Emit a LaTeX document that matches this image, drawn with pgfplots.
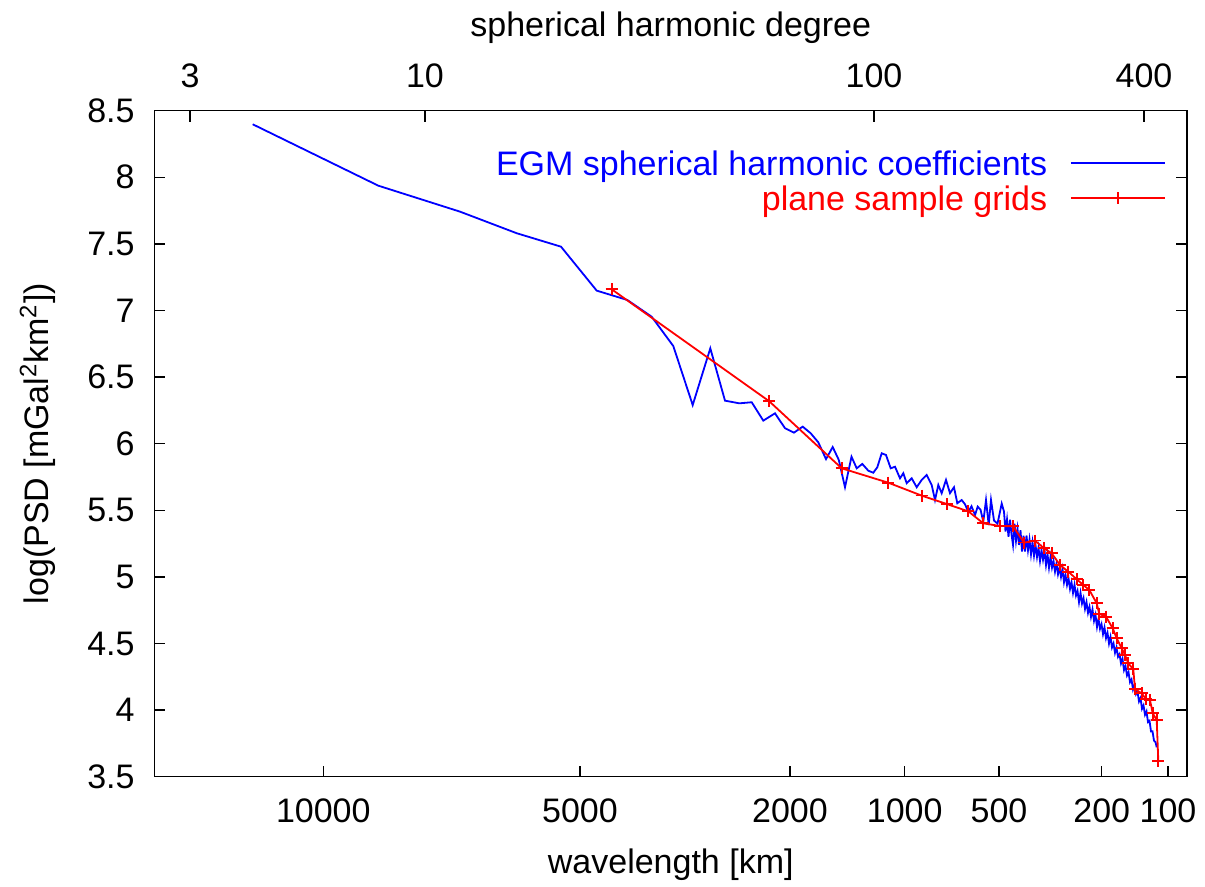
\documentclass[border=0pt]{standalone}
\usepackage{fontspec}
\setmainfont{Liberation Sans}
\usepackage{pgfplots}
\pgfplotsset{compat=1.18}
\begin{document}
\fontsize{17}{20}\selectfont
\begin{tikzpicture}
\pgfplotsset{
  common/.style={
    width=516.25pt, height=333pt, scale only axis,
    xmin=154.5, xmax=1187, ymin=3.5, ymax=8.5,
    at={(0,0)}, anchor=south west,
    /pgf/number format/assume math mode=true,
    tick align=inside, major tick length=5.5pt,
    every tick/.style={black, line width=0.65pt},
    axis line style={line width=0.65pt},
  }
}
\begin{axis}[common,
  clip=false,
  xtick pos=left,
  xtick={323.3,580,790,904.7,999,1101.7,1168},
  xticklabels={10000,5000,2000,1000,500,200,100},
  xticklabel style={anchor=base, yshift=-23.15pt, inner sep=0pt},
  ytick={3.5,4,4.5,5,5.5,6,6.5,7,7.5,8,8.5},
  yticklabel style={anchor=east, xshift=-9.75pt, inner sep=0pt, /pgf/number format/fixed},
  xlabel={wavelength [km]},
  xlabel style={at={(axis description cs:0.5,-0.1461)}, anchor=base, inner sep=0pt},
  ylabel={log(PSD [mGal\textsuperscript{2}km\textsuperscript{2}])},
  ylabel style={at={(axis description cs:-0.1022,0.5)}, anchor=base, inner sep=0pt},
  legend style={draw=none, fill=none, at={(0.9794,0.947)}, anchor=north east,
    inner sep=0pt, outer sep=0pt, row sep=0.2pt, column sep=11.35pt,
    nodes={inner sep=0pt, text height=15pt, text depth=2.3pt}},
  legend plot pos=right,
  legend cell align=right,
  legend image code/.code={\draw[mark repeat=2, mark phase=2, #1] plot coordinates {(0pt,0pt) (23.5pt,0pt) (47pt,0pt)};},
]
\addplot[blue, line width=0.9pt, no marks] table {
252.7 8.398
378.3 7.937
460 7.742
516.7 7.580
561 7.479
596.7 7.149
627.3 7.079
651.7 6.953
673.3 6.733
692.7 6.290
710.3 6.716
725 6.323
739.3 6.303
751.7 6.311
763.3 6.173
775 6.228
785 6.116
794 6.083
802.7 6.128
810.7 6.078
818.3 6.010
826 5.884
832.7 5.975
838.8 5.878
845 5.673
851.5 5.902
856.7 5.815
862.3 5.848
868.3 5.797
873.3 5.782
877.3 5.823
881.7 5.928
886 5.915
890.7 5.815
895 5.827
900 5.740
903.3 5.778
906.7 5.703
911.7 5.740
916.7 5.673
921.7 5.728
926.7 5.765
931.7 5.690
935 5.577
938.3 5.690
941.7 5.628
946 5.728
950 5.628
954 5.673
957.3 5.553
961.7 5.577
965 5.545
968.3 5.489
971.5 5.530
975 5.465
977.7 5.527
980.5 5.505
983.3 5.414
986 5.577
988.7 5.390
991 5.577
994 5.423
997.5 5.400
1001.7 5.550
1004 5.49
1005.5 5.34
1007 5.43
1008.5 5.30
1010 5.43
1011.5 5.32
1013 5.24
1014.5 5.40
1016 5.27
1017.5 5.36
1019 5.24
1020.5 5.35
1022 5.19
1023.5 5.31
1025 5.19
1026.5 5.31
1028 5.20
1029.5 5.28
1031 5.17
1032.5 5.26
1034 5.16
1035.5 5.24
1037 5.15
1038.5 5.22
1040 5.12
1041.5 5.20
1043 5.13
1044.5 5.20
1046 5.09
1047.5 5.17
1049 5.07
1050.5 5.15
1052 5.07
1053.5 5.12
1055 5.04
1056.5 5.10
1058 5.02
1059.5 5.07
1061 5.00
1062.5 5.06
1064 4.96
1065.5 5.015
1067 4.94
1068.5 4.99
1070 4.91
1071.5 4.96
1073 4.88
1074.5 4.94
1076 4.86
1077.5 4.895
1079 4.81
1080.5 4.88
1082 4.80
1083.5 4.84
1085 4.76
1086.5 4.81
1088 4.73
1089.5 4.775
1091 4.70
1092.5 4.755
1094 4.67
1095.5 4.715
1097 4.625
1098.5 4.685
1100 4.61
1101.5 4.645
1103 4.57
1104.5 4.62
1106 4.54
1107.5 4.58
1109 4.50
1110.5 4.55
1112 4.47
1113.5 4.50
1115 4.43
1116.5 4.47
1118 4.40
1119.5 4.42
1121 4.35
1122.5 4.385
1124 4.30
1125.5 4.33
1127 4.26
1128.5 4.285
1130 4.21
1131.5 4.23
1133 4.155
1134.5 4.19
1136 4.12
1137.5 4.14
1139 4.065
1140.5 4.09
1142 4.01
1143.5 4.035
1145 3.965
1146.5 3.99
1148 3.91
1149.5 3.92
1151 3.84
1152.5 3.84
1154 3.77
1155.5 3.76
1156.7 3.72
};
\addlegendentry{\textcolor{blue}{EGM spherical harmonic coefficients}}
\addplot[red, line width=0.9pt, mark=+, mark size=3pt, mark options={line width=0.85pt, solid}] table {
611.7 7.159
769.3 6.318
841.7 5.815
888.3 5.707
921.7 5.610
946.7 5.547
968.3 5.492
983.3 5.402
1000 5.382
1013 5.380
1024 5.257
1035 5.272
1044 5.215
1051.7 5.177
1060 5.089
1068.3 5.039
1076.7 4.982
1083.3 4.939
1089.3 4.902
1096.7 4.802
1099.3 4.722
1106 4.701
1112.7 4.614
1116.7 4.539
1121.7 4.464
1125 4.414
1128.3 4.351
1133.3 4.306
1135 4.156
1141.7 4.126
1146 4.081
1150 4.076
1152.7 3.976
1156.7 3.926
1158.3 3.620
};
\addlegendentry{\textcolor{red}{plane sample grids}}
\path (axis cs:0,9.331) rectangle (axis cs:1205,2.679);
\end{axis}
\begin{axis}[common,
  axis x line*=top, axis y line=none,
  x axis line style={-},
  xtick={190,425,874,1144},
  xticklabels={3,10,100,400},
  xticklabel style={anchor=base, yshift=11.35pt, inner sep=0pt},
  xlabel={spherical harmonic degree},
  xlabel style={at={(axis description cs:0.5,1.1107)}, anchor=base, inner sep=0pt},
]
\addplot[draw=none] coordinates {(500,5)};
\end{axis}
\end{tikzpicture}
\end{document}
